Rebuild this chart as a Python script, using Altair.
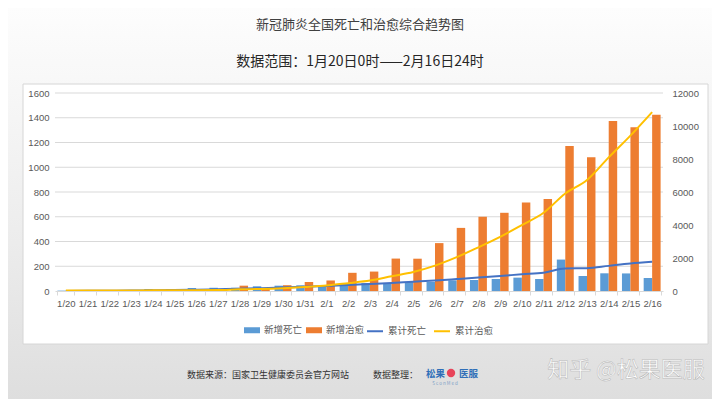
import altair as alt
import pandas as pd

# ---------------- data ----------------
dates = ['1/20', '1/21', '1/22', '1/23', '1/24', '1/25', '1/26', '1/27', '1/28', '1/29',
         '1/30', '1/31', '2/1', '2/2', '2/3', '2/4', '2/5', '2/6', '2/7', '2/8', '2/9',
         '2/10', '2/11', '2/12', '2/13', '2/14', '2/15', '2/16']
new_deaths = [3, 3, 8, 8, 16, 15, 24, 26, 26, 38, 43, 46, 45, 57, 64, 65, 73, 73, 86, 89,
              97, 108, 97, 254, 121, 143, 142, 105]
new_recovered = [0, 0, 3, 6, 4, 11, 2, 9, 43, 21, 47, 72, 85, 147, 157, 262, 261, 387, 510,
                 600, 632, 716, 744, 1171, 1081, 1373, 1323, 1425]
cum_deaths = [6, 9, 17, 25, 41, 56, 80, 106, 132, 170, 213, 259, 304, 361, 425, 490, 563,
              636, 722, 811, 908, 1016, 1113, 1367, 1380, 1523, 1665, 1770]
cum_recovered = [25, 25, 28, 34, 38, 49, 51, 60, 103, 124, 171, 243, 328, 475, 632, 892,
                 1153, 1540, 2050, 2649, 3281, 3996, 4740, 5911, 6723, 8096, 9419, 10844]

bar_series = ['新增死亡', '新增治愈']
line_series = ['累计死亡', '累计治愈']
left_ticks = [0, 200, 400, 600, 800, 1000, 1200, 1400, 1600]
right_ticks = [0, 2000, 4000, 6000, 8000, 10000, 12000]

title_text = '新冠肺炎全国死亡和治愈综合趋势图'
subtitle_text = '数据范围：1月20日0时——2月16日24时'
source_text = '数据来源：国家卫生健康委员会官方网站'
org_label = '数据整理：'
watermark = '知乎 @松果医服'

# ---------------- tables ----------------
bar_df = pd.DataFrame({
    'date': dates * 2,
    'bar_series': [bar_series[0]] * len(dates) + [bar_series[1]] * len(dates),
    'value': new_deaths + new_recovered,
})
line_df = pd.DataFrame({
    'date': dates * 2,
    'line_series': [line_series[0]] * len(dates) + [line_series[1]] * len(dates),
    'value': cum_deaths + cum_recovered,
})
grid_df = pd.DataFrame({'v': left_ticks[1:]})
one = pd.DataFrame({'a': [0]})

# ---------------- layout ----------------
W, H = 608, 198
PL, PT, PR, PB = 47, 85, 49, 108
NUM_FONT = 'Liberation Sans, Noto Sans CJK SC'
CJK_FONT = 'Noto Sans CJK SC'
LBL = '#595959'

bg = alt.Chart(one).mark_rect(
    color=alt.LinearGradient(
        gradient='linear', x1=0, x2=0, y1=0, y2=1,
        stops=[alt.GradientStop(color='#fdfdfd', offset=0),
               alt.GradientStop(color='#ececec', offset=0.6),
               alt.GradientStop(color='#dedede', offset=1)])
).encode(x=alt.value(-PL), x2=alt.value(W + PR), y=alt.value(-PT), y2=alt.value(H + PB))

box = alt.Chart(one).mark_rect(fill='white', stroke='#d6d6d6', strokeWidth=1).encode(
    x=alt.value(-32), x2=alt.value(653), y=alt.value(-9), y2=alt.value(251))

grid = alt.Chart(grid_df).mark_rule(color='#d9d9d9', strokeWidth=1).encode(
    y=alt.Y('v:Q', scale=alt.Scale(domain=[0, 1600]), axis=None),
    x=alt.value(0), x2=alt.value(W))

x_enc = alt.X('date:N', sort=dates,
              scale=alt.Scale(paddingInner=0.22, paddingOuter=0.11),
              axis=alt.Axis(title=None, labelAngle=0, labelFont=NUM_FONT, labelFontSize=9.5,
                            labelColor=LBL, domainColor='#d9d9d9', tickColor='#d9d9d9',
                            tickSize=4, tickBand='extent', labelPadding=3, zindex=1,
                            grid=False))

bars = alt.Chart(bar_df).mark_bar().encode(
    x=x_enc,
    xOffset=alt.XOffset('bar_series:N', sort=bar_series,
                        scale=alt.Scale(paddingInner=0, paddingOuter=0)),
    y=alt.Y('value:Q', scale=alt.Scale(domain=[0, 1600]),
            axis=alt.Axis(title=None, orient='left', values=left_ticks, format='d',
                          grid=False, domain=False, ticks=False, labelPadding=6,
                          labelFont=NUM_FONT, labelFontSize=9.5, labelColor=LBL, zindex=1)),
    color=alt.Color('bar_series:N', scale=alt.Scale(domain=bar_series,
                                                    range=['#5b9bd5', '#ed7d31']),
                    legend=alt.Legend(title=None, orient='none', legendX=189, legendY=229,
                                      direction='horizontal',
                                      symbolType='M-1,-0.375H1V0.375H-1Z', symbolSize=256,
                                      symbolStrokeWidth=0, labelFont=CJK_FONT,
                                      labelFontSize=9.5, labelColor=LBL, labelOffset=4,
                                      columnPadding=3, zindex=1)),
)

lines = alt.Chart(line_df).mark_line(interpolate='monotone', strokeWidth=2).encode(
    x=x_enc,
    y=alt.Y('value:Q', scale=alt.Scale(domain=[0, 12000]),
            axis=alt.Axis(title=None, orient='right', values=right_ticks, format='d',
                          grid=False, domain=False, ticks=False, labelPadding=9,
                          labelFont=NUM_FONT, labelFontSize=9.5, labelColor=LBL, zindex=1)),
    stroke=alt.Stroke('line_series:N', scale=alt.Scale(domain=line_series,
                                                       range=['#4472c4', '#ffc000']),
                      legend=alt.Legend(title=None, orient='none', legendX=311, legendY=229,
                                        direction='horizontal', symbolType='stroke',
                                        symbolSize=256, symbolStrokeWidth=2,
                                        labelFont=CJK_FONT, labelFontSize=9.5,
                                        labelColor=LBL, labelOffset=4, columnPadding=3,
                                        zindex=1)),
)


def txt(text, x, y, size, color, align='center', font=CJK_FONT, **kw):
    return alt.Chart(one).mark_text(align=align, baseline='middle', font=font,
                                    fontSize=size, color=color, **kw).encode(
        x=alt.value(x), y=alt.value(y), text=alt.value(text))


title = txt(title_text, 305, -68, 13, '#404040')
subtitle = txt(subtitle_text, 305, -31, 14, '#262626')
source = txt(source_text, 132, 282, 9, '#333333', align='left')
org = txt(org_label, 318, 282, 9, '#333333', align='left')
logo1 = txt('松果', 371, 281, 9.5, '#2f6fb8', align='left', fontWeight='bold')
logo2 = txt('医服', 404, 281, 9.5, '#2f6fb8', align='left', fontWeight='bold')
logo_dot = alt.Chart(one).mark_point(filled=True, color='#e8445a', size=70, opacity=1).encode(
    x=alt.value(396), y=alt.value(280))
logo_sub = txt('S c o n M e d', 390, 291, 4.5, '#7f9fc7')
wm = txt(watermark, 571, 277, 22, 'white', stroke='#b5b5b5', strokeWidth=0.5)

chart = alt.layer(
    bg, box, grid, bars, lines, title, subtitle, source, org, logo1, logo_dot, logo2,
    logo_sub, wm
).resolve_scale(
    y='independent', color='independent', stroke='independent'
).properties(
    width=W, height=H,
    padding={'left': PL, 'top': PT, 'right': PR, 'bottom': PB},
    autosize=alt.AutoSizeParams(type='none'),
    background='white',
).configure_view(stroke=None)

chart.save('out.html', embed_options={'renderer': 'svg', 'actions': False})
